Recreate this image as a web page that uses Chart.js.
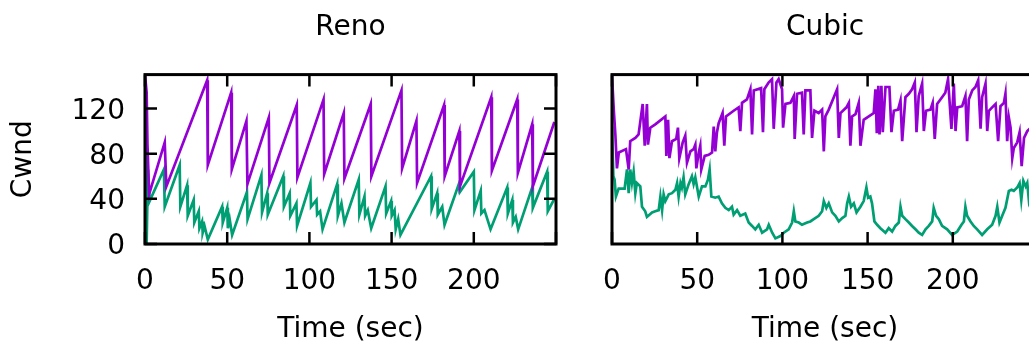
<!DOCTYPE html>
<html>
<head>
<meta charset="utf-8">
<script src="https://cdn.jsdelivr.net/npm/chart.js@4"></script>
<style>
  body { margin: 0; background: #fff; overflow: hidden; width: 1029px; height: 343px; position: relative; }
  canvas { position: absolute; top: 0; }
  #reno { left: 0; }
  #cubic { left: 580px; }
</style>
</head>
<body>
<canvas id="reno" width="580" height="343"></canvas>
<canvas id="cubic" width="470" height="343"></canvas>
<script>
// ==============================
// Data (time in sec, cwnd in packets)
// ==============================
const renoFlow1Time = [0, 1, 1.5, 2.5, 12, 13, 37.8, 38.2, 52.4, 52.8, 61.7, 62.3, 75.3, 75.7, 92.3, 92.7, 108.6, 109, 120.9, 121.3, 137.3, 137.7, 156, 156.4, 165.1, 165.5, 181.9, 182.3, 191.2, 191.6, 210.6, 211, 226.4, 226.8, 235.5, 235.9, 249];
const renoFlow1Cwnd = [150, 134, 88, 44, 90, 51, 145, 70, 134, 66, 109, 53, 112, 54, 123, 59, 128, 62, 116, 58, 124, 60, 136, 67, 109, 54, 123, 60, 100, 51, 130, 65, 128, 63, 106, 51, 108];

const renoFlow2Time = [0, 1, 1.8, 2.8, 11.5, 12, 21.1, 21.5, 25.6, 26, 29.6, 30, 32.7, 33.1, 34.7, 35.1, 36.2, 38.2, 46.9, 47.3, 50, 50.4, 51.5, 53, 62, 62.4, 70.8, 71.2, 74.3, 74.7, 84.1, 84.5, 88, 88.4, 92.1, 92.5, 100.6, 101, 104.3, 104.7, 106.5, 108, 116.9, 117.3, 119.5, 121.3, 130, 130.4, 133.5, 133.9, 135.5, 137.6, 146.3, 146.7, 149.7, 150.1, 151.8, 152.5, 154, 155.4, 174, 174.4, 177.7, 178.1, 180.8, 182.2, 190.9, 191.5, 200, 200.4, 204.2, 204.6, 206.5, 210.2, 220.3, 220.7, 223.4, 223.8, 225.5, 227, 235.5, 235.9, 244.6, 245, 249];
const renoFlow2Cwnd = [134, 1, 66, 38, 66, 33, 70, 33, 52, 25, 39, 19, 29, 14, 20, 10, 16, 4, 33, 19, 32, 14, 22, 8, 46, 22, 61, 28, 45, 26, 60, 33, 45, 25, 36, 16, 54, 33, 39, 26, 29, 13, 53, 25, 36, 19, 57, 26, 42, 25, 30, 14, 51, 27, 38, 25, 30, 13, 22, 8, 60, 31, 45, 26, 33, 17, 53, 46, 64, 30, 47, 27, 30, 13, 50, 27, 39, 19, 24, 13, 50, 32, 64, 29, 40];

const cubicFlow1Time = [0, 1, 2, 2.9, 4, 8.2, 9.8, 10.7, 13.7, 15.6, 18, 19.2, 20.5, 21.1, 22.5, 25.4, 31.3, 31.9, 32.9, 33.7, 35.2, 37.7, 38.7, 39.5, 41.5, 43, 44, 46, 47.9, 48.9, 49.5, 50.9, 51.8, 52.4, 54.4, 56.7, 58.7, 59.7, 60.6, 61.6, 62.6, 64.9, 65.9, 66.9, 71.4, 74.3, 75.3, 76.3, 79.2, 81.2, 82.2, 83.2, 87.5, 88.6, 89.4, 91.9, 93.9, 94.9, 96.5, 97.8, 99.8, 100.4, 101.8, 104.7, 106.7, 107.2, 108.6, 111.5, 112.5, 113.5, 116.4, 117.4, 118.8, 121.3, 123.3, 124.3, 125.2, 127.2, 132.1, 133.1, 134.1, 137.6, 139, 139.9, 140.9, 142.9, 144.8, 145.8, 147.7, 150.7, 153.6, 154.6, 155.4, 156.3, 157, 158.1, 158.9, 160.5, 162.8, 164, 165.4, 167.9, 169.3, 170.3, 172.2, 174.2, 176.1, 177.7, 178.7, 180, 182, 183, 184.3, 186.9, 188.2, 189.4, 190.8, 193.7, 195.6, 197.2, 199.2, 200.6, 201.6, 202.6, 205.5, 207.4, 208.4, 209.4, 211.4, 213.3, 214.9, 216.3, 217.2, 219.2, 220.2, 221.2, 223.1, 225.1, 226.6, 228, 230, 230.9, 231.9, 232.9, 233.9, 234.9, 235.8, 237.8, 239.2, 240.4, 241.8, 243.7, 245.1, 247];
const cubicFlow1Cwnd = [149, 120, 96, 67, 81, 84, 66, 91, 94, 97, 124, 87, 124, 88, 103, 106, 113, 78, 110, 76, 91, 93, 103, 76, 90, 96, 72, 82, 84, 88, 67, 81, 87, 66, 78, 79, 81, 104, 82, 99, 107, 116, 87, 113, 118, 121, 100, 125, 128, 137, 97, 136, 138, 99, 137, 143, 146, 102, 143, 146, 137, 103, 124, 125, 131, 93, 133, 134, 97, 136, 136, 94, 118, 116, 119, 82, 113, 119, 137, 94, 116, 121, 125, 87, 113, 115, 125, 87, 110, 113, 116, 137, 98, 140, 97, 140, 99, 139, 139, 99, 118, 119, 127, 91, 130, 133, 137, 143, 99, 131, 142, 100, 118, 119, 125, 93, 124, 130, 134, 146, 102, 142, 100, 121, 122, 131, 91, 128, 136, 139, 145, 102, 130, 142, 100, 118, 121, 124, 91, 122, 125, 133, 91, 112, 103, 76, 85, 90, 99, 69, 94, 100, 102, 104];

const cubicFlow2Time = [0, 0.8, 1.5, 2.3, 3.9, 7.4, 8.8, 9.8, 10.7, 11.7, 12.7, 13.7, 14.6, 16.6, 17.6, 19.5, 20.5, 23.5, 25.4, 27.4, 28.4, 29.4, 30.3, 31.3, 33.3, 35.2, 37.2, 38.2, 39.1, 40.2, 41, 42, 43, 45, 46.9, 47.9, 48.9, 50.9, 52.8, 54.8, 56.3, 57.3, 58.3, 60.6, 62.6, 64.5, 66.5, 68.5, 70.4, 71.4, 73.4, 75.3, 78.2, 80.2, 82.2, 84.1, 86.1, 88.1, 91, 92, 94, 95.9, 98.8, 100.8, 103.7, 105.7, 106.7, 107.6, 109.6, 111.5, 114.5, 116.4, 118.4, 121.3, 123.3, 124.3, 125.8, 127.2, 129.2, 131.1, 133.1, 135.1, 137, 138, 139, 140.3, 141.9, 143.5, 145.8, 147.7, 149.3, 150.3, 151.6, 152.6, 154, 155.6, 157.5, 160.5, 162.4, 164.4, 166.3, 168.3, 169.3, 170.3, 172.2, 174.2, 176.1, 178.1, 180, 182, 184, 185.9, 187.9, 188.8, 190.2, 191.8, 193.7, 196.7, 199.6, 202.6, 205.1, 206.5, 207.4, 208.4, 210.4, 212.3, 214.3, 217.2, 220.2, 223.1, 225.1, 226.1, 227.4, 229, 230.9, 232.9, 234.5, 235.8, 237.8, 239.2, 240.2, 241.4, 242.8, 243.7, 244.7, 246];
const cubicFlow2Cwnd = [104, 60, 57, 42, 49, 49, 66, 45, 66, 54, 64, 45, 54, 51, 33, 29, 24, 28, 29, 30, 42, 30, 44, 38, 44, 45, 48, 54, 42, 54, 50, 59, 44, 53, 60, 53, 59, 42, 51, 51, 57, 66, 42, 41, 42, 36, 32, 30, 33, 26, 30, 25, 27, 19, 16, 13, 17, 10, 13, 17, 10, 5, 7, 10, 13, 19, 29, 20, 19, 17, 19, 20, 22, 25, 29, 38, 32, 36, 28, 25, 20, 23, 25, 36, 42, 33, 36, 28, 33, 38, 50, 41, 42, 36, 20, 17, 14, 10, 14, 11, 16, 19, 33, 25, 22, 19, 16, 13, 10, 8, 13, 16, 20, 32, 25, 22, 16, 13, 8, 11, 17, 20, 33, 25, 20, 16, 13, 8, 13, 17, 25, 33, 19, 25, 32, 47, 48, 47, 50, 54, 39, 56, 51, 54, 38, 44];

const xTicks = { stepSize: 50 };
const yTicks = { stepSize: 40 };

// ==============================
// Helpers
// ==============================
const FONT = { family: "'DejaVu Sans', sans-serif", size: 28 };
const PURPLE = "#9400d3";
const GREEN = "#009e73";

const toPoints = (xs, ys) => xs.map((x, i) => ({ x, y: ys[i] }));

// gnuplot style frame: full border + inward ticks on all sides
const framePlugin = {
  id: "frame",
  afterDatasetsDraw(chart, args, opts) {
    const { ctx, chartArea: a, scales } = chart;
    const len = 12;
    ctx.save();
    ctx.strokeStyle = "#000";
    ctx.lineWidth = 2.5;
    ctx.beginPath();
    scales.x.ticks.forEach((t) => {
      const px = scales.x.getPixelForValue(t.value);
      ctx.moveTo(px, a.bottom);
      ctx.lineTo(px, a.bottom - len);
      ctx.moveTo(px, a.top);
      ctx.lineTo(px, a.top + len);
    });
    if (opts.yTicks) {
      scales.y.ticks.forEach((t) => {
        const py = scales.y.getPixelForValue(t.value);
        ctx.moveTo(a.left, py);
        ctx.lineTo(a.left + len, py);
        ctx.moveTo(a.right, py);
        ctx.lineTo(a.right - len, py);
      });
    }
    ctx.stroke();
    ctx.lineWidth = 3;
    ctx.strokeRect(a.left, a.top, a.right - a.left, a.bottom - a.top);
    ctx.restore();
  },
};

function makeChart(id, title, flows, showY, padLeft, padRight) {
  const datasets = flows.map((f) => ({
    data: toPoints(f.time, f.cwnd),
    borderColor: f.color,
    borderWidth: 2.7,
    pointRadius: 0,
    tension: 0,
    fill: false,
  }));

  return new Chart(document.getElementById(id), {
    type: "line",
    data: { datasets },
    plugins: [framePlugin],
    options: {
      responsive: false,
      animation: false,
      layout: { padding: { left: padLeft, right: padRight, top: 0, bottom: 0 } },
      plugins: {
        legend: { display: false },
        tooltip: { enabled: false },
        frame: { yTicks: showY },
        title: {
          display: true,
          text: title,
          fullSize: false,
          color: "#000",
          font: { ...FONT, weight: "normal" },
          padding: { top: 11, bottom: 30 },
        },
      },
      scales: {
        x: {
          type: "linear",
          min: 0,
          max: 250,
          afterFit: (s) => {
            s.height = 99;
            // no extra room for edge labels, plot runs to the padding
            s.paddingLeft = 0;
            s.paddingRight = 0;
          },
          grid: { display: false, drawTicks: false },
          border: { display: false },
          ticks: {
            ...xTicks,
            includeBounds: false,
            padding: 21,
            maxRotation: 0,
            color: "#000",
            font: FONT,
            // gnuplot leaves the last label off at the right edge
            callback: (v) => (v >= 250 ? "" : v),
          },
          title: {
            display: true,
            text: "Time (sec)",
            color: "#000",
            font: { ...FONT, lineHeight: 1 },
            padding: { top: 0, bottom: -1 },
          },
        },
        y: {
          display: showY,
          min: 0,
          max: 150,
          afterFit: (s) => {
            s.width = showY ? 145 : 0;
          },
          grid: { display: false, drawTicks: false },
          border: { display: false },
          ticks: {
            ...yTicks,
            includeBounds: false,
            padding: 20,
            labelOffset: 3,
            color: "#000",
            font: FONT,
          },
          title: {
            display: true,
            text: "Cwnd",
            color: "#000",
            font: { ...FONT, lineHeight: 1 },
            padding: { top: 10, bottom: 0 },
          },
        },
      },
    },
  });
}

// ==============================
// Reno
// ==============================
makeChart(
  "reno",
  "Reno",
  [
    { time: renoFlow1Time, cwnd: renoFlow1Cwnd, color: PURPLE },
    { time: renoFlow2Time, cwnd: renoFlow2Cwnd, color: GREEN },
  ],
  true,
  0,
  24
);

// ==============================
// Cubic (cut off at the right edge, like the original)
// ==============================
makeChart(
  "cubic",
  "Cubic",
  [
    { time: cubicFlow1Time, cwnd: cubicFlow1Cwnd, color: PURPLE },
    { time: cubicFlow2Time, cwnd: cubicFlow2Cwnd, color: GREEN },
  ],
  false,
  32,
  12
);
</script>
</body>
</html>
